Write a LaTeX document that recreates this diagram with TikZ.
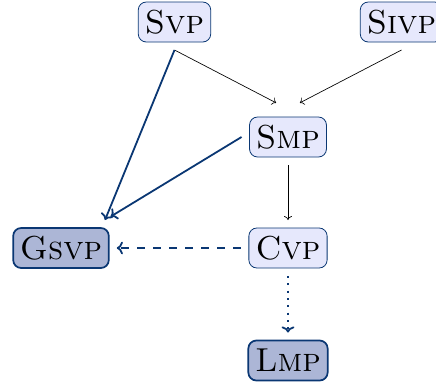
\documentclass[tikz,border=0pt]{standalone}
\usepackage{amsmath}
\usepackage{tikz}
\usetikzlibrary{arrows.meta}

\definecolor{navyline}{RGB}{10,55,115}
\definecolor{probfill}{RGB}{230,232,252}
\definecolor{goalfill}{RGB}{172,182,214}

\tikzset{
  probbox/.style={draw=navyline, fill=probfill, rounded corners=6pt, line width=0.6pt,
    minimum height=30pt, inner xsep=5pt, outer sep=6pt, font=\Huge},
  goalbox/.style={probbox, fill=goalfill, line width=1.3pt},
  thinred/.style={-{To[length=3pt,width=6pt]}, black, line width=0.5pt},
  thickred/.style={->, navyline, line width=1.35pt}
}

\begin{document}
\begin{tikzpicture}[x=0.75pt,y=0.75pt,yscale=-1,xscale=1]
\useasboundingbox (0,0) rectangle (436,387);

% Problems
\node [probbox] (svp) at (174.5,22) {\textsc{Svp}};
\node [probbox] (sivp) at (401.5,22) {\textsc{Sivp}};
\node [probbox] (smp) at (288,137) {\textsc{Smp}};
\node [goalbox] (gsvp) at (61,248) {\textsc{Gsvp}};
\node [probbox] (cvp) at (288,248) {\textsc{Cvp}};
\node [goalbox] (lmp) at (288,360.5) {\textsc{Lmp}};
\coordinate (gsvpin) at ([xshift=33pt]gsvp.north);

% Reductions
\draw [thinred, shorten >=10pt] (svp.south) -- (smp.north);
\draw [thinred, shorten >=10pt] (sivp.south) -- (smp.north);
\draw [thinred] (smp.south) -- (cvp.north);
\draw [thickred] (svp.south) -- (gsvpin);
\draw [thickred, shorten >=5pt] (smp.west) -- (gsvpin);
\draw [thickred, dash pattern=on 6pt off 6pt] (cvp.west) -- (gsvp.east);
\draw [thickred, dash pattern=on 1.5pt off 4pt] (cvp.south) -- (lmp.north);

\end{tikzpicture}
\end{document}
